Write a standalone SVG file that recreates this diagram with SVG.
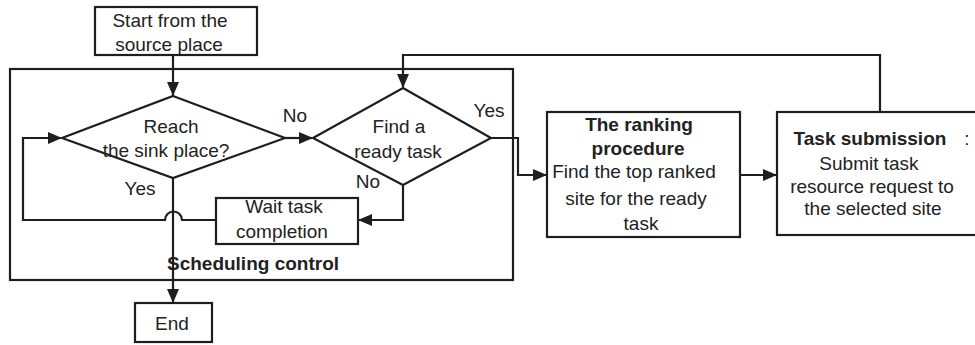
<svg xmlns="http://www.w3.org/2000/svg" width="975" height="345" viewBox="0 0 975 345">
<style>
.box{fill:#fff;stroke:#1e1e1e;stroke-width:2.2}
.frame{fill:none;stroke:#1e1e1e;stroke-width:2.2}
.ln{fill:none;stroke:#1e1e1e;stroke-width:2.2}
text{font-family:"Liberation Sans",Arial,sans-serif;font-size:19px;fill:#222;text-anchor:middle}
.b{font-weight:bold}
</style>
<defs>
<marker id="ah" markerWidth="14" markerHeight="12" refX="13" refY="6" orient="auto" markerUnits="userSpaceOnUse">
<path d="M0,0 L14,6 L0,12 z" fill="#1e1e1e"/>
</marker>
</defs>
<rect width="975" height="345" fill="#fff"/>
<g id="sched-frame">
<rect class="frame" x="10" y="69" width="503" height="211"/>
<text class="b" x="253" y="270">Scheduling control</text>
</g>
<g id="connectors">
<path class="ln" d="M173,55 V95" marker-end="url(#ah)"/>
<path class="ln" d="M285,138 H312" marker-end="url(#ah)"/>
<path class="ln" d="M491,138 H518 V175 H546" marker-end="url(#ah)"/>
<path class="ln" d="M740,175 H776" marker-end="url(#ah)"/>
<path class="ln" d="M880,112 V55 H403 V87" marker-end="url(#ah)"/>
<path class="ln" d="M403,185 V220 H359" marker-end="url(#ah)"/>
<path class="ln" d="M216,220 H182 A8,8 0 0 0 165,220 H23 V138 H61" marker-end="url(#ah)"/>
<path class="ln" d="M173,178 V302" marker-end="url(#ah)"/>
<text x="295" y="122">No</text>
<text x="489" y="117">Yes</text>
<text x="368" y="188">No</text>
<text x="140" y="195">Yes</text>
</g>
<g id="start">
<rect class="box" x="95" y="7" width="162" height="48"/>
<text x="170" y="27">Start from the</text>
<text x="169" y="51">source place</text>
</g>
<g id="reach-sink">
<polygon class="box" points="173,96 285,138 173,178 62,138"/>
<text x="171" y="133">Reach</text>
<text x="166" y="157">the sink place?</text>
</g>
<g id="find-ready">
<polygon class="box" points="403,88 491,138 403,185 313,138"/>
<text x="399" y="133">Find a</text>
<text x="398" y="158">ready task</text>
</g>
<g id="wait">
<rect class="box" x="216" y="198" width="142" height="46"/>
<text x="284" y="213">Wait task</text>
<text x="282" y="238">completion</text>
</g>
<g id="end">
<rect class="box" x="135" y="303" width="77" height="39"/>
<text x="172" y="330">End</text>
</g>
<g id="ranking">
<rect class="box" x="547" y="112" width="193" height="125"/>
<text class="b" x="639" y="131">The ranking</text>
<text class="b" x="638" y="155">procedure</text>
<text x="634" y="178">Find the top ranked</text>
<text x="636" y="205">site for the ready</text>
<text x="641" y="230">task</text>
</g>
<g id="submission">
<rect class="box" x="777" y="112" width="210" height="123"/>
<text class="b" x="870" y="145">Task submission</text>
<text x="967" y="145">:</text>
<text x="869" y="170">Submit task</text>
<text x="872" y="193">resource request to</text>
<text x="873" y="215">the selected site</text>
</g>
</svg>
